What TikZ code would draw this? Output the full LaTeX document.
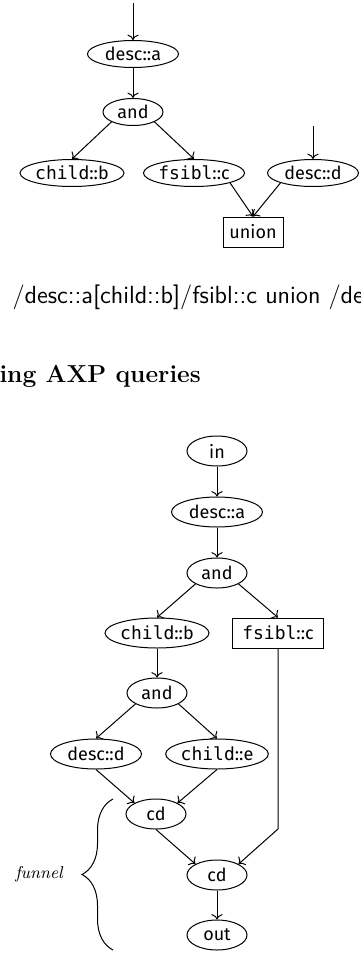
\documentclass[tikz,border=0pt]{standalone}
\usepackage{fontspec}
\usepackage{tikz}
\usetikzlibrary{arrows.meta,shapes.geometric,decorations.pathreplacing}
\newfontfamily\nodefont{Fira Sans}
\newfontfamily\axfont{DejaVu Sans Mono}
\newcommand{\axname}[1]{{\axfont #1}}

\tikzset{
  opnode/.style={ellipse, draw, line width=0.5pt, inner sep=0pt,
                 minimum height=15pt, minimum width=30pt,
                 font=\nodefont\fontsize{9}{11}\selectfont},
  axnode/.style={opnode, minimum width=45.5pt},
  boxnode/.style={rectangle, draw, line width=0.5pt, inner sep=0pt,
                  minimum height=15pt, minimum width=30pt,
                  font=\nodefont\fontsize{9}{11}\selectfont},
  flat/.style={minimum height=13.5pt}
}

\begin{document}
\begin{tikzpicture}[
                        x=0.5pt, y=0.5pt,
                        >=To,
                        every path/.style={line width=0.5pt}
                    ]
                    \useasboundingbox (0,0) rectangle (360,-953);

                    % Blocks: first plan
                    \coordinate (in1) at (133,-3);
                    \coordinate (in2) at (313,-126);
                    \node [axnode, flat] (desca) at (133,-54) {desc::a};
                    \node [opnode, flat] (and) at (133,-112) {and};
                    \node [axnode, flat] (childb) at (72,-173) {\axname{child}::b};
                    \node [axnode, flat] (fsiblc) at (194,-173) {\axname{fsibl}::c};
                    \node [axnode, flat] (descd) at (313,-173) {desc::d};
                    \node [boxnode] (union) at (253,-232) {union};

                    % Connections: first plan
                    \draw [->] (in1) -- (desca.north);
                    \draw [->] (desca.south) -- (and.north);
                    \draw [->] (and.south west) -- (childb.north);
                    \draw [->] (and.south east) -- (fsiblc.north);
                    \draw [->] (in2) -- (descd.north);
                    \draw [->] (fsiblc.south east) -- (union.north);
                    \draw [->] (descd.south west) -- (union.north);

                    % Texts
                    \node [anchor=base west, inner sep=0pt, font=\sffamily\fontsize{12.4}{15}\selectfont] (query) at (12,-303) {/desc::a[child::b]/fsibl::c union /de};
                    \node [anchor=base west, inner sep=0pt, font=\bfseries\fontsize{12.3}{15}\selectfont] (title) at (-1,-382) {ing AXP queries};

                    % Blocks: second plan
                    \node [opnode] (in) at (217,-451) {in};
                    \node [axnode] (desca2) at (217,-512) {desc::a};
                    \node [opnode] (and2) at (217,-573) {and};
                    \node [axnode] (childb2) at (157,-633) {\axname{child}::b};
                    \node [boxnode, minimum width=45.5pt] (fsiblc2) at (278,-633) {\axname{fsibl}::c};
                    \node [opnode] (and3) at (157,-693) {and};
                    \node [axnode] (descd2) at (96,-754) {desc::d};
                    \node [axnode] (childe2) at (217,-754) {\axname{child}::e};
                    \node [opnode] (cd1) at (156,-814) {cd};
                    \node [opnode] (cd2) at (217,-875) {cd};
                    \node [opnode] (out) at (217,-935) {out};
                    \coordinate (bend) at (278,-829);

                    % Connections: second plan
                    \draw [->] (in.south) -- (desca2.north);
                    \draw [->] (desca2.south) -- (and2.north);
                    \draw [->] (and2.south west) -- (childb2.north);
                    \draw [->] (and2.south east) -- (fsiblc2.north);
                    \draw [->] (childb2.south) -- (and3.north);
                    \draw [->] (and3.south west) -- (descd2.north);
                    \draw [->] (and3.south east) -- (childe2.north);
                    \draw [->] (descd2.south) -- (cd1.north west);
                    \draw [->] (childe2.south) -- (cd1.north east);
                    \draw [->] (cd1.south) -- (cd2.north west);
                    \draw [->] (fsiblc2.south) -- (bend) -- (cd2.north east);
                    \draw [->] (cd2.south) -- (out.north);

                    % Funnel brace
                    \coordinate (fbot) at (113,-950);
                    \coordinate (ftop) at (113,-799);
                    \draw [decorate, decoration={brace, amplitude=15.5pt}] (fbot) -- (ftop);
                    \node [font=\itshape\fontsize{8.6}{10}\selectfont, inner sep=0pt] (funnel) at (39,-874) {funnel};
                \end{tikzpicture}
\end{document}
